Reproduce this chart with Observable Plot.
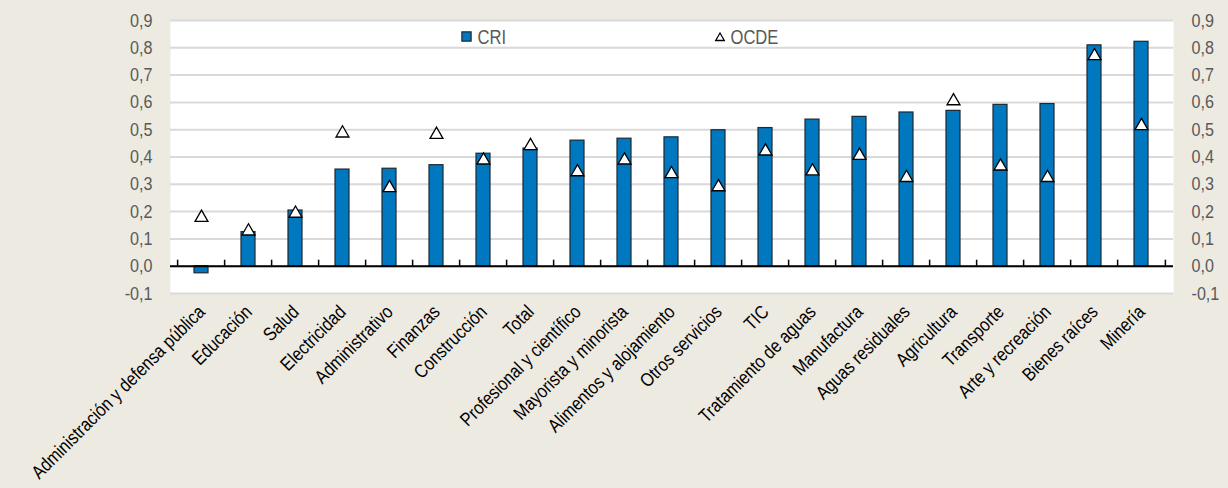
<!DOCTYPE html>
<html>
<head>
<meta charset="utf-8">
<script src="https://cdn.jsdelivr.net/npm/d3@7"></script>
<script src="https://cdn.jsdelivr.net/npm/@observablehq/plot@0.6"></script>
<style>
  html, body { margin: 0; padding: 0; background: #EDEAE1; }
  #chart { width: 1228px; height: 488px; overflow: hidden; }
</style>
</head>
<body>
<div id="chart"></div>
<script>
const categories = [
  "Administración y defensa pública", "Educación", "Salud", "Electricidad", "Administrativo",
  "Finanzas", "Construcción", "Total", "Profesional y científico", "Mayorista y minorista",
  "Alimentos y alojamiento", "Otros servicios", "TIC", "Tratamiento de aguas", "Manufactura",
  "Aguas residuales", "Agricultura", "Transporte", "Arte y recreación", "Bienes raíces", "Minería"
];
const criValues = [-0.026, 0.125, 0.204, 0.354, 0.357, 0.370, 0.412, 0.431, 0.460, 0.467,
  0.472, 0.498, 0.506, 0.537, 0.547, 0.563, 0.569, 0.591, 0.594, 0.809, 0.822];
const ocdeValues = [0.178, 0.128, 0.193, 0.487, 0.287, 0.482, 0.388, 0.441, 0.345, 0.388,
  0.338, 0.290, 0.421, 0.348, 0.405, 0.324, 0.605, 0.366, 0.324, 0.770, 0.514];
const yTicks = [-0.1, 0, 0.1, 0.2, 0.3, 0.4, 0.5, 0.6, 0.7, 0.8, 0.9];
const seriesNames = ["CRI", "OCDE"];

const data = categories.map((c, i) => ({cat: c, cri: criValues[i], ocde: ocdeValues[i]}));

const W = 1228, H = 488, mL = 170, mR = 55, mT = 20, mB = 195;
const step = (W - mL - mR) / categories.length;
const font = "'Liberation Sans', Arial, sans-serif";
const fmt = d => d.toFixed(1).replace(".", ",");
const barFill = "#0078BF", barStroke = "#1c2833";
const grey = "#595959";

const chart = Plot.plot({
  width: W, height: H,
  marginLeft: mL, marginRight: mR, marginTop: mT, marginBottom: mB,
  style: {background: "transparent", fontFamily: font, overflow: "visible"},
  x: {domain: categories, paddingInner: 0.692, paddingOuter: 0.346, label: null},
  y: {domain: [-0.1, 0.9], label: null},
  marks: [
    Plot.frame({fill: "white", stroke: "none"}),
    Plot.ruleY(yTicks, {stroke: "#d9d9d9", strokeWidth: 2}),
    Plot.barY(data, {x: "cat", y: "cri", fill: barFill, stroke: barStroke, strokeWidth: 1.2}),
    Plot.ruleY([0], {stroke: "black", strokeWidth: 2}),
    Plot.ruleX(categories, {x: d => d, dx: -step / 2, y1: 0, y2: 0, insetTop: -6, stroke: "black", strokeWidth: 1.5}),
    Plot.ruleX([categories[categories.length - 1]], {x: d => d, dx: step / 2, y1: 0, y2: 0, insetTop: -6, stroke: "black", strokeWidth: 1.5}),
    Plot.dot(data, {x: "cat", y: "ocde", symbol: "triangle", r: 4.8, fill: "white", stroke: "black", strokeWidth: 1.3}),
    // legend
    Plot.dot([seriesNames[0]], {frameAnchor: "top-left", dx: 296, dy: 16, symbol: "square", r: 5.2, fill: barFill, stroke: barStroke, strokeWidth: 1.2}),
    Plot.text([seriesNames[0]], {frameAnchor: "top-left", dx: 307, dy: 17, lineAnchor: "middle", text: d => d, textAnchor: "start", fontSize: 19.5, fill: grey}),
    Plot.dot([seriesNames[1]], {frameAnchor: "top-left", dx: 549.5, dy: 17.5, symbol: "triangle", r: 3.2, fill: "white", stroke: "black", strokeWidth: 1.3}),
    Plot.text([seriesNames[1]], {frameAnchor: "top-left", dx: 560, dy: 17, lineAnchor: "middle", text: d => d, textAnchor: "start", fontSize: 19.5, fill: grey}),
    // axes
    Plot.axisY(yTicks, {anchor: "left", tickSize: 0, tickPadding: 18, tickFormat: fmt, fontSize: 19, fill: grey, label: null}),
    Plot.axisY(yTicks, {anchor: "right", tickSize: 0, tickPadding: 18, tickFormat: fmt, fontSize: 19, fill: grey, label: null}),
    Plot.axisX({tickRotate: -45, tickSize: 0, tickPadding: 10, dx: -5, textAnchor: "end", lineAnchor: "top", fontSize: 19, fill: "black", label: null})
  ]
});
// condense all texts (narrow look): horizontal scale along the text direction
chart.querySelectorAll("text").forEach(t => {
  const tr = t.getAttribute("transform") || "";
  t.setAttribute("transform", tr + " scale(0.85,1)");
});
document.getElementById("chart").appendChild(chart);
</script>
</body>
</html>
